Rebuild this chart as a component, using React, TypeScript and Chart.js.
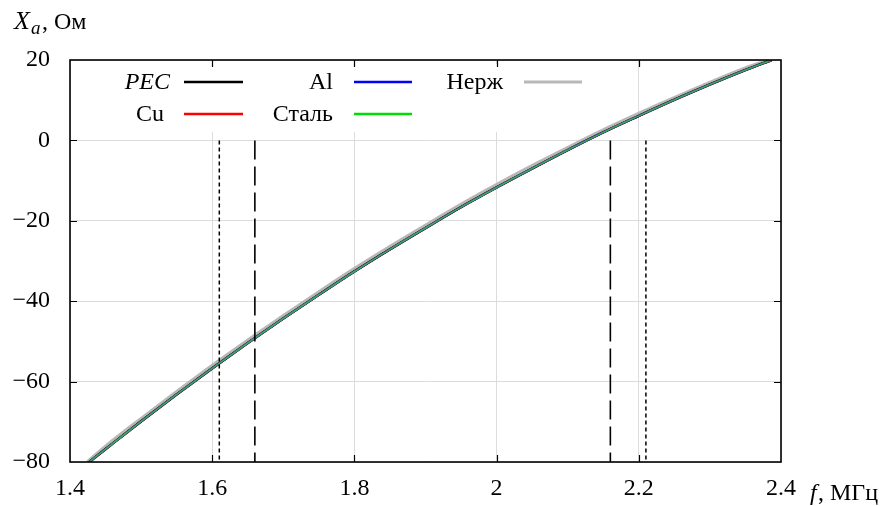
import React, { useEffect, useRef } from 'react';
import { Chart, registerables } from 'chart.js';

Chart.register(...registerables);

// Frequency, MHz
const freq = [1.427, 1.45, 1.5, 1.55, 1.6, 1.65, 1.7, 1.75, 1.8, 1.85, 1.9, 1.95, 2.0, 2.05, 2.1, 2.15, 2.2, 2.25, 2.3, 2.35, 2.387];
// Reactance X_a, Ohm
const xPEC = [-80, -76.8, -69.9, -63.2, -56.7, -50.4, -44.3, -38.4, -32.6, -27.1, -21.8, -16.6, -11.7, -7.0, -2.4, 2.0, 6.1, 10.1, 13.9, 17.5, 20.0];
const xCu = [-80, -76.8, -69.9, -63.2, -56.7, -50.4, -44.3, -38.4, -32.6, -27.1, -21.8, -16.6, -11.7, -7.0, -2.4, 2.0, 6.1, 10.1, 13.9, 17.5, 20.0];
const xAl = [-80, -76.8, -69.9, -63.2, -56.7, -50.4, -44.3, -38.4, -32.6, -27.1, -21.8, -16.6, -11.7, -7.0, -2.4, 2.0, 6.1, 10.1, 13.9, 17.5, 20.0];
const xSteel = [-80, -76.8, -69.9, -63.2, -56.7, -50.4, -44.3, -38.4, -32.6, -27.1, -21.8, -16.6, -11.7, -7.0, -2.4, 2.0, 6.1, 10.1, 13.9, 17.5, 20.0];
const freqNerzh = [1.425, 1.45, 1.5, 1.55, 1.6, 1.65, 1.7, 1.75, 1.8, 1.85, 1.9, 1.95, 2.0, 2.05, 2.1, 2.15, 2.2, 2.25, 2.3, 2.35, 2.385];
const xNerzh = [-80, -76.2, -69.3, -62.6, -56.1, -49.8, -43.7, -37.8, -32.0, -26.5, -21.2, -16.0, -11.1, -6.4, -1.9, 2.5, 6.6, 10.5, 14.3, 17.9, 20.0];

// Vertical marker lines (MHz)
const dottedMarks = [1.61, 2.21];
const dashedMarks = [1.66, 2.16];
const markTop = 0;
const markBottom = -80;

const xTicks = [1.4, 1.6, 1.8, 2.0, 2.2, 2.4];
const yTicks = [-80, -60, -40, -20, 0, 20];

const seriesNames = ['PEC', 'Cu', 'Al', 'Сталь', 'Нерж'];
const seriesColors = ['#000000', '#ff0000', '#0000ff', '#00dd00', '#b8b8b8'];

const SERIF = '"Liberation Serif", "DejaVu Serif", serif';

const pts = (xs: number[], ys: number[]) => xs.map((x, i) => ({ x, y: ys[i] }));

const overlayPlugin = {
  id: 'overlay',
  beforeDatasetsDraw(chart: any) {
    const { ctx } = chart;
    // legend background box
    ctx.save();
    ctx.fillStyle = '#ffffff';
    ctx.fillRect(92, 64, 510, 68);
    ctx.restore();
  },
  afterDatasetsDraw(chart: any) {
    const { ctx, chartArea: a, scales } = chart;
    const xs = scales.x;
    const ys = scales.y;
    ctx.save();
    // frame
    ctx.strokeStyle = '#000';
    ctx.lineWidth = 1.6;
    ctx.strokeRect(a.left, a.top, a.right - a.left, a.bottom - a.top);
    // inner ticks
    ctx.lineWidth = 1.2;
    ctx.beginPath();
    xTicks.slice(1, -1).forEach((v) => {
      const px = Math.round(xs.getPixelForValue(v)) + 0.5;
      ctx.moveTo(px, a.bottom);
      ctx.lineTo(px, a.bottom - 7);
      ctx.moveTo(px, a.top);
      ctx.lineTo(px, a.top + 7);
    });
    yTicks.slice(1, -1).forEach((v) => {
      const py = Math.round(ys.getPixelForValue(v)) + 0.5;
      ctx.moveTo(a.left, py);
      ctx.lineTo(a.left + 7, py);
      ctx.moveTo(a.right, py);
      ctx.lineTo(a.right - 7, py);
    });
    ctx.stroke();

    // legend
    const rows = [82, 114];
    const entries = [
      { name: seriesNames[0], italic: true, textRight: 170, l0: 184, l1: 243, row: 0, c: 0 },
      { name: seriesNames[1], italic: false, textRight: 164, l0: 184, l1: 243, row: 1, c: 1 },
      { name: seriesNames[2], italic: false, textRight: 333, l0: 354, l1: 412, row: 0, c: 2 },
      { name: seriesNames[3], italic: false, textRight: 333, l0: 354, l1: 412, row: 1, c: 3 },
      { name: seriesNames[4], italic: false, textRight: 503, l0: 524, l1: 582, row: 0, c: 4 },
    ];
    ctx.textAlign = 'right';
    ctx.textBaseline = 'middle';
    entries.forEach((e) => {
      const y = rows[e.row];
      ctx.fillStyle = '#000';
      ctx.font = (e.italic ? 'italic ' : '') + '24px ' + SERIF;
      ctx.fillText(e.name, e.textRight, y + 1);
      ctx.strokeStyle = seriesColors[e.c];
      ctx.lineWidth = e.c === 4 ? 3 : 2.5;
      ctx.beginPath();
      ctx.moveTo(e.l0, y);
      ctx.lineTo(e.l1, y);
      ctx.stroke();
    });

    // axis titles
    ctx.textAlign = 'left';
    ctx.textBaseline = 'alphabetic';
    ctx.fillStyle = '#000';
    ctx.font = 'italic 26px ' + SERIF;
    ctx.fillText('X', 14, 29);
    ctx.font = 'italic 19px ' + SERIF;
    ctx.fillText('a', 31, 34);
    ctx.font = '24px ' + SERIF;
    ctx.fillText(', Ом', 42, 29);

    ctx.font = 'italic 24px ' + SERIF;
    ctx.fillText('f', 810, 500);
    ctx.font = '24px ' + SERIF;
    ctx.fillText(', МГц', 818, 500);
    ctx.restore();
  },
};

export default function App() {
  const ref = useRef<HTMLCanvasElement | null>(null);
  useEffect(() => {
    if (!ref.current) return;
    const mainDatasets = [
      { label: 'Нерж', data: pts(freqNerzh, xNerzh), borderColor: 'rgba(175,175,175,0.9)', borderWidth: 4, order: 10 },
      { label: 'PEC', data: pts(freq, xPEC), borderColor: '#000000', borderWidth: 2.6, order: 9 },
      { label: 'Cu', data: pts(freq, xCu), borderColor: '#ff0000', borderWidth: 2.2, order: 8 },
      { label: 'Al', data: pts(freq, xAl), borderColor: '#1030a0', borderWidth: 2.2, order: 7 },
      { label: 'Сталь', data: pts(freq, xSteel), borderColor: 'rgba(60,175,90,0.95)', borderWidth: 1.6, order: 6 },
    ].map((d) => ({ ...d, pointRadius: 0, tension: 0.4, cubicInterpolationMode: 'monotone' as const, fill: false }));
    const markDatasets = [
      ...dottedMarks.map((m) => ({
        label: 'dotted',
        data: [{ x: m, y: markTop }, { x: m, y: markBottom }],
        borderColor: '#000', borderWidth: 1.5, borderDash: [4, 3], pointRadius: 0, order: 1,
      })),
      ...dashedMarks.map((m) => ({
        label: 'dashed',
        data: [{ x: m, y: markTop }, { x: m, y: markBottom }],
        borderColor: '#000', borderWidth: 1.6, borderDash: [19, 7], pointRadius: 0, order: 1,
      })),
    ];
    const chart = new Chart(ref.current, {
      type: 'line',
      data: { datasets: [...mainDatasets, ...markDatasets] as any },
      options: {
        animation: false,
        responsive: false,
        layout: { padding: { top: 60, right: 105, left: 0, bottom: 0 } },
        plugins: { legend: { display: false }, tooltip: { enabled: false } },
        scales: {
          x: {
            type: 'linear',
            min: 1.4,
            max: 2.4,
            afterBuildTicks: (s: any) => { s.ticks = xTicks.map((v) => ({ value: v })); },
            afterFit: (s: any) => { s.height = 44; },
            ticks: {
              color: '#000',
              font: { family: SERIF, size: 24 },
              padding: 12,
              maxRotation: 0,
              callback: (v: any) => String(Math.round(Number(v) * 10) / 10),
            },
            grid: { color: '#dcdcdc', lineWidth: 1, drawTicks: false },
            border: { display: false },
          },
          y: {
            type: 'linear',
            min: -80,
            max: 20,
            afterBuildTicks: (s: any) => { s.ticks = yTicks.map((v) => ({ value: v })); },
            afterFit: (s: any) => { s.width = 70; },
            ticks: {
              color: '#000',
              font: { family: SERIF, size: 24 },
              padding: 20,
              callback: (v: any) => String(Math.round(Number(v))).replace('-', '\u2212'),
            },
            grid: { color: '#dcdcdc', lineWidth: 1, drawTicks: false },
            border: { display: false },
          },
        },
      },
      plugins: [overlayPlugin],
    });
    return () => chart.destroy();
  }, []);
  return (
    <div style={{ position: 'fixed', left: 0, top: 0, width: 886, height: 506, background: '#fff' }}>
      <canvas ref={ref} width={886} height={506} style={{ display: 'block' }} />
    </div>
  );
}
